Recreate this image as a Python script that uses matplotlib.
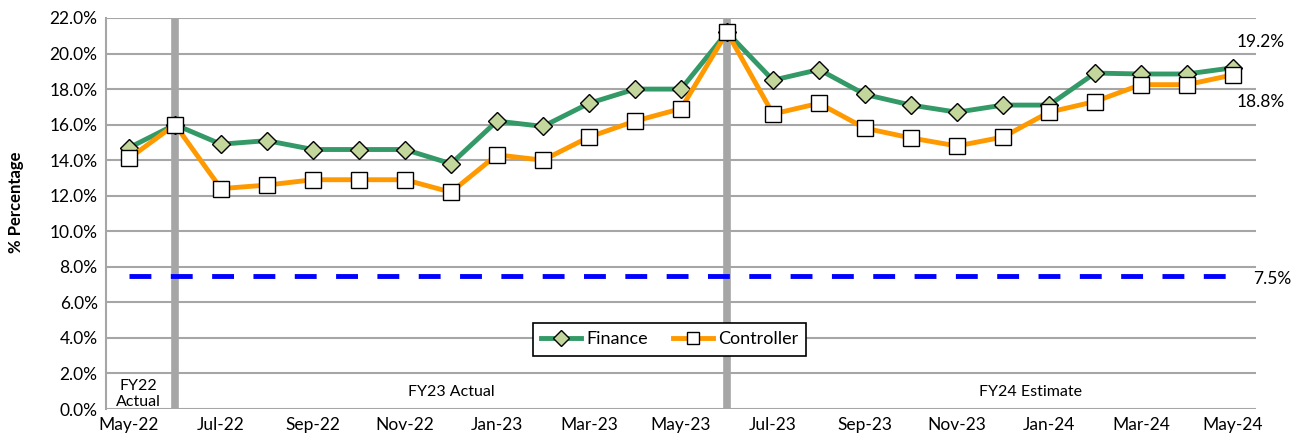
import matplotlib
matplotlib.use("Agg")
import matplotlib.pyplot as plt
from matplotlib.ticker import FuncFormatter
import numpy as np

plt.rcParams['font.family'] = ['Lato', 'DejaVu Sans']

months = ['May-22', 'Jun-22', 'Jul-22', 'Aug-22', 'Sep-22', 'Oct-22', 'Nov-22', 'Dec-22',
          'Jan-23', 'Feb-23', 'Mar-23', 'Apr-23', 'May-23', 'Jun-23', 'Jul-23', 'Aug-23',
          'Sep-23', 'Oct-23', 'Nov-23', 'Dec-23', 'Jan-24', 'Feb-24', 'Mar-24', 'Apr-24', 'May-24']
finance = [14.7, 16.0, 14.9, 15.1, 14.6, 14.6, 14.6, 13.8, 16.2, 15.9, 17.2, 18.0, 18.0,
           21.2, 18.5, 19.1, 17.7, 17.1, 16.7, 17.1, 17.1, 18.9, 18.85, 18.85, 19.2]
controller = [14.1, 16.0, 12.4, 12.6, 12.9, 12.9, 12.9, 12.2, 14.3, 14.0, 15.3, 16.2, 16.9,
              21.2, 16.6, 17.2, 15.8, 15.25, 14.8, 15.3, 16.7, 17.3, 18.25, 18.25, 18.8]
target = 7.5
fy_breaks = ['Jun-22', 'Jun-23']

x = np.arange(len(months))
grid_col = '#a6a6a6'

fig = plt.figure(figsize=(13.04, 4.45), dpi=100)
ax = fig.add_axes([106 / 1304, 36 / 445, 1150 / 1304, 391 / 445])

ax.set_ylim(0, 22)
ax.set_xlim(-0.5, len(months) - 0.5)
ax.set_yticks(np.arange(0, 22.1, 2))
ax.yaxis.set_major_formatter(FuncFormatter(lambda v, p: f'{v:.1f}%'))
ax.grid(axis='y', color=grid_col, linewidth=1.5)
ax.set_axisbelow(True)
for s in ['top', 'right', 'bottom']:
    ax.spines[s].set_visible(False)
ax.spines['left'].set_color(grid_col)
ax.spines['left'].set_linewidth(1.5)
ax.tick_params(axis='both', length=0, labelsize=12.5, pad=6)
ax.set_xticks(x[::2])
ax.set_xticklabels(months[::2])

for b in fy_breaks:
    ax.axvline(months.index(b), color=grid_col, linewidth=5.5, zorder=1)

ax.plot(x, [target] * len(x), color='#0000ff', linewidth=3.5, dashes=(4.5, 4), zorder=2)
ax.plot(x, finance, color='#339966', linewidth=3.5, marker='D', markersize=9,
        markerfacecolor='#c3d69b', markeredgecolor='black', markeredgewidth=1, label='Finance', zorder=3)
ax.plot(x, controller, color='#ff9900', linewidth=3.5, marker='s', markersize=11,
        markerfacecolor='white', markeredgecolor='black', markeredgewidth=1, label='Controller', zorder=4)

ax.set_ylabel('% Percentage', fontsize=12, fontweight='bold')
ax.yaxis.set_label_coords(-0.071, 0.53)

ax.text(0.2, 0.85, 'FY22\nActual', ha='center', va='center', fontsize=11.5, linespacing=1.25)
ax.text(7, 0.95, 'FY23 Actual', ha='center', va='center', fontsize=11.5)
ax.text(19.6, 0.95, 'FY24 Estimate', ha='center', va='center', fontsize=11.5)

ax.text(24.08, 20.65, f'{finance[-1]:.1f}%', ha='left', va='center', fontsize=12.5, clip_on=False)
ax.text(24.08, 17.3, f'{controller[-1]:.1f}%', ha='left', va='center', fontsize=12.5, clip_on=False)
ax.text(24.43, target - 0.2, f'{target:.1f}%', ha='left', va='center', fontsize=12.5, clip_on=False)

leg = ax.legend(loc='center', bbox_to_anchor=(0.49, 0.178), ncol=2, fontsize=13,
                frameon=True, fancybox=False, edgecolor='black', framealpha=1,
                handlelength=2.2, handletextpad=0.3, columnspacing=1.4, borderpad=0.45,
                markerscale=0.85)
leg.get_frame().set_linewidth(1.2)

fig.savefig('out.png', dpi=100)
